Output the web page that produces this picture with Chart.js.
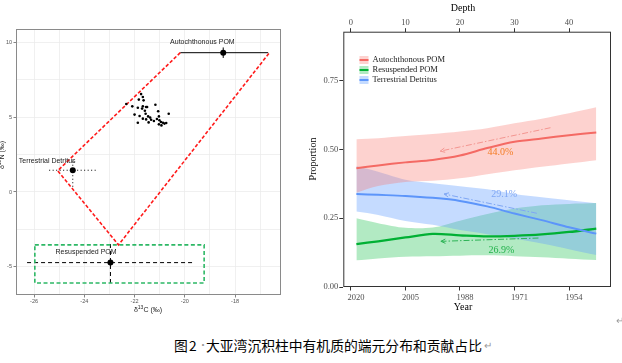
<!DOCTYPE html>
<html><head><meta charset="utf-8">
<script src="https://cdn.jsdelivr.net/npm/chart.js@4"></script>
<style>
html,body{margin:0;padding:0;background:#fff;width:622px;height:363px;overflow:hidden;position:relative}
#c1{position:absolute;left:0;top:0;width:300px;height:320px}
#c2{position:absolute;left:300px;top:0;width:322px;height:320px}
.cap{position:absolute;font-family:"Noto Sans CJK SC";font-size:13.8px;line-height:16px;color:#000;white-space:nowrap}
.g{color:#999}
</style></head><body>
<canvas id="c1" width="300" height="320"></canvas>
<canvas id="c2" width="322" height="320"></canvas>
<div class="cap" style="left:174px;top:337px">图</div>
<div class="cap" style="left:189px;top:337px">2</div>
<div class="cap g" style="left:198px;top:337px;font-size:10px">·</div>
<div class="cap" style="left:206px;top:337px">大亚湾沉积柱中有机质的端元分布和贡献占比</div>
<div class="cap g" style="left:484px;top:337px;font-size:10px">↵</div>
<div class="cap g" style="left:616px;top:312px;font-size:10px">↵</div>
<script>
// ---------- LEFT PANEL DATA (δ13C / δ15N biplot) ----------
const mixC = [-22.33,-22.09,-21.74,-21.67,-21.83,-21.64,-21.87,-21.67,-21.54,-21.70,-22.00,-21.80,-21.56,-21.46,-21.38,-21.67,-21.54,-21.87,-21.44,-21.17,-21.06,-21.03,-21.11,-21.01,-20.95,-20.87,-21.03,-20.93,-20.81,-20.74,-20.64,-21.23,-21.34,-21.59,-21.50];
const mixN = [5.87,5.71,6.53,6.33,6.16,6.11,5.62,5.71,5.67,5.56,5.16,5.07,5.22,5.04,4.96,4.89,4.84,4.62,4.64,5.82,5.38,5.04,4.87,4.78,4.67,4.62,4.51,4.44,4.56,4.60,5.22,4.73,4.82,5.42,5.67];
const srcNames = ['Autochthonous POM','Terrestrial Detritus','Resuspended POM'];
const srcC   = [-18.47,-24.46,-22.96];
const srcN   = [9.29,1.45,-4.71];
const srcCLo = [-20.18,-25.40,-26.28];
const srcCHi = [-16.68,-23.53,-19.67];
const srcNLo = [8.94,0.35,-6.07];
const srcNHi = [9.64,2.10,-3.31];
const srcLabelC = [-19.30,-25.48,-23.93];
const srcLabelN = [10.00,2.09,-4.02];
const polyC = [-20.18,-25.06,-22.64,-16.63];
const polyN = [9.29,1.42,-3.53,9.29];
const boxC = [-25.97,-19.23,-19.23,-25.97,-25.97];
const boxN = [-3.53,-3.53,-6.07,-6.07,-3.53];
const leftXTicks = [-26,-25,-24,-23,-22,-21,-20,-19,-18,-17];
const leftYTicks = [-5,-2.5,0,2.5,5,7.5,10];

// ---------- RIGHT PANEL DATA (mixing-model proportions) ----------
const depth    = [1,5,10,15,20,25,30,35,40,45];
const autoMean = [0.432,0.442,0.453,0.462,0.478,0.505,0.528,0.540,0.552,0.562];
const autoHi   = [0.537,0.541,0.549,0.556,0.565,0.577,0.595,0.612,0.632,0.653];
const autoLo   = [0.343,0.367,0.382,0.386,0.395,0.410,0.424,0.437,0.449,0.461];
const resMean  = [0.156,0.166,0.180,0.193,0.188,0.184,0.186,0.191,0.200,0.212];
const resHi    = [0.250,0.232,0.215,0.216,0.241,0.265,0.285,0.297,0.302,0.305];
const resLo    = [0.097,0.104,0.110,0.112,0.114,0.115,0.112,0.108,0.103,0.098];
const terMean  = [0.338,0.335,0.331,0.324,0.313,0.293,0.267,0.243,0.217,0.194];
const terHi    = [0.440,0.419,0.390,0.377,0.366,0.355,0.338,0.326,0.315,0.304];
const terLo    = [0.274,0.262,0.240,0.226,0.207,0.192,0.175,0.158,0.137,0.116];
const seriesNames = ['Autochthonous POM','Resuspended POM','Terrestrial Detritus'];
const depthTicks = [0,10,20,30,40];
const yearDepths = [0,10,20,30,40];
const yearLabels = ['2020','2005','1988','1971','1954'];
const propTicks = [0,0.25,0.5,0.75];
const annotText   = ['44.0%','29.1%','26.9%'];
const annotTextD  = [27.4,28.1,27.6];
const annotTextV  = [0.489,0.337,0.132];
const arrowFromD  = [36.6,34.1,34.4];
const arrowFromV  = [0.579,0.268,0.178];
const arrowToD    = [16.4,17.1,16.5];
const arrowToV    = [0.494,0.338,0.166];

Chart.defaults.animation = false;
Chart.defaults.plugins.legend.display = false;
Chart.defaults.plugins.tooltip.enabled = false;

const pts = (xs, ys) => xs.map((x,i)=>({x:x, y:ys[i]}));

// ---------- LEFT CHART ----------
const leftDs = [];
leftDs.push({data: pts(mixC,mixN), showLine:false, pointRadius:1.3, pointBackgroundColor:'#000', pointBorderWidth:0});
leftDs.push({data: pts(polyC,polyN), showLine:true, borderColor:'#FF1A1A', borderWidth:1.6, borderDash:[3.5,2], pointRadius:0});
leftDs.push({data: pts(boxC,boxN), showLine:true, borderColor:'#2DB865', borderWidth:1.6, borderDash:[4,2.5], pointRadius:0});
const errDash = [[], [1,2.5], [4,3]];
for (let i=0;i<3;i++){
  leftDs.push({data:[{x:srcCLo[i],y:srcN[i]},{x:srcCHi[i],y:srcN[i]}], showLine:true, borderColor:'#000', borderWidth:1, borderDash:errDash[i], pointRadius:0});
  leftDs.push({data:[{x:srcC[i],y:srcNLo[i]},{x:srcC[i],y:srcNHi[i]}], showLine:true, borderColor:'#000', borderWidth:1, borderDash:errDash[i], pointRadius:0});
}
leftDs.push({data: pts(srcC,srcN), showLine:false, pointRadius:3, pointBackgroundColor:'#000', pointBorderWidth:0});

const leftPlugin = {
  id:'leftDeco',
  afterDraw(chart){
    const {ctx, chartArea:a, scales:{x,y}} = chart;
    ctx.save();
    ctx.strokeStyle='#8a8a8a'; ctx.lineWidth=1;
    ctx.strokeRect(a.left+0.5, a.top+0.5, a.right-a.left-1, a.bottom-a.top-1);
    ctx.fillStyle='#222'; ctx.font='7px "Liberation Sans"'; ctx.textAlign='center'; ctx.textBaseline='middle';
    for (let i=0;i<srcNames.length;i++){
      ctx.fillText(srcNames[i], x.getPixelForValue(srcLabelC[i]), y.getPixelForValue(srcLabelN[i]));
    }
    const drawIso = (cx, cy, iso, el) => {
      ctx.font='7px "Liberation Sans"';
      const w1 = ctx.measureText('δ').width;
      ctx.font='5px "Liberation Sans"';
      const w2 = ctx.measureText(iso).width;
      ctx.font='7px "Liberation Sans"';
      const w3 = ctx.measureText(el).width;
      let sx = cx - (w1+w2+w3)/2;
      ctx.textAlign='left';
      ctx.fillText('δ', sx, cy);
      ctx.font='5px "Liberation Sans"';
      ctx.fillText(iso, sx+w1, cy-2.5);
      ctx.font='7px "Liberation Sans"';
      ctx.fillText(el, sx+w1+w2, cy);
    };
    ctx.fillStyle='#222';
    drawIso(148, 310, '13', 'C (‰)');
    ctx.save();
    ctx.translate(1.8, 155); ctx.rotate(-Math.PI/2);
    drawIso(0, 0, '15', 'N (‰)');
    ctx.restore();
    ctx.restore();
  }
};

new Chart(document.getElementById('c1'), {
  type:'scatter',
  data:{datasets:leftDs},
  options:{
    responsive:false,
    layout:{padding:{top:29,right:19,left:0,bottom:0}},
    scales:{
      x:{type:'linear', min:-26.72, max:-16.17,
         afterBuildTicks:s=>{s.ticks = leftXTicks.map(v=>({value:v}));},
         afterFit:s=>{s.height=25;},
         border:{display:false},
         grid:{color:'#ececec', lineWidth:0.8, tickLength:2.5, tickColor:c=> (c.tick && c.tick.value%2===0)?'#666':'rgba(0,0,0,0)'},
         ticks:{autoSkip:false, maxRotation:0, padding:1, color:'#555', font:{family:'Liberation Sans', size:5.5},
                callback:v=> v%2===0 ? String(v) : ''}},
      y:{type:'linear', min:-6.87, max:10.87,
         afterBuildTicks:s=>{s.ticks = leftYTicks.map(v=>({value:v}));},
         afterFit:s=>{s.width=16;},
         border:{display:false},
         grid:{color:'#ececec', lineWidth:0.8, tickLength:2.5, tickColor:c=> (c.tick && c.tick.value%5===0)?'#666':'rgba(0,0,0,0)'},
         ticks:{autoSkip:false, padding:1.5, color:'#555', font:{family:'Liberation Sans', size:5.5},
                callback:v=> v%5===0 ? String(v) : ''}}
    }
  },
  plugins:[leftPlugin]
});

// ---------- RIGHT CHART ----------
const cRed='#F46A64', cGreen='#00B034', cBlue='#5C95FA';
const fRed='rgba(248,118,109,0.33)', fGreen='rgba(0,186,56,0.30)', fBlue='rgba(97,156,255,0.37)';
const bandDs = (lo,hi,fill)=>[
  {data:pts(depth,lo), borderWidth:0, borderColor:'rgba(0,0,0,0)', pointRadius:0, tension:0.3, fill:false, order:1},
  {data:pts(depth,hi), borderWidth:0, borderColor:'rgba(0,0,0,0)', pointRadius:0, tension:0.3, fill:'-1', backgroundColor:fill, order:1}
];
const rightDs = [
  ...bandDs(autoLo,autoHi,fRed),
  ...bandDs(terLo,terHi,fBlue),
  ...bandDs(resLo,resHi,fGreen),
  {data:pts(depth,autoMean), borderColor:cRed, borderWidth:2, pointRadius:0, tension:0.3, fill:false, order:0},
  {data:pts(depth,terMean), borderColor:cBlue, borderWidth:2, pointRadius:0, tension:0.3, fill:false, order:0},
  {data:pts(depth,resMean), borderColor:cGreen, borderWidth:2.3, pointRadius:0, tension:0.3, fill:false, order:0}
];

const legendColors = [[fRed,cRed],[fGreen,cGreen],[fBlue,cBlue]];
const annotTextColors = ['#F47C24','#7EA6F4','#22B24C'];
const annotLineColors = ['#F39590','#7EA6F4','#2DB356'];

const rightPlugin = {
  id:'rightDeco',
  afterDraw(chart){
    const {ctx, chartArea:a, scales:{x,y}} = chart;
    ctx.save();
    ctx.strokeStyle='#333'; ctx.lineWidth=1;
    ctx.strokeRect(a.left+0.5, a.top+0.5, a.right-a.left-1, a.bottom-a.top-1);
    for (let i=0;i<seriesNames.length;i++){
      const cy = 60 + i*10;
      ctx.fillStyle = legendColors[i][0];
      ctx.fillRect(59.5, cy-4, 9, 8);
      ctx.strokeStyle = legendColors[i][1]; ctx.lineWidth=2; ctx.setLineDash([]);
      ctx.beginPath(); ctx.moveTo(59.5, cy); ctx.lineTo(68.5, cy); ctx.stroke();
      ctx.fillStyle='#1a1a1a'; ctx.font='8.5px "Liberation Serif"'; ctx.textAlign='left'; ctx.textBaseline='middle';
      ctx.fillText(seriesNames[i], 72.5, cy);
    }
    for (let i=0;i<annotText.length;i++){
      const x0=x.getPixelForValue(arrowFromD[i]), y0=y.getPixelForValue(arrowFromV[i]);
      const x1=x.getPixelForValue(arrowToD[i]), y1=y.getPixelForValue(arrowToV[i]);
      ctx.strokeStyle=annotLineColors[i]; ctx.lineWidth=1;
      ctx.setLineDash([6,2,1.5,2]);
      ctx.beginPath(); ctx.moveTo(x0,y0); ctx.lineTo(x1,y1); ctx.stroke();
      ctx.setLineDash([]);
      const ang = Math.atan2(y0-y1, x0-x1);
      ctx.beginPath();
      ctx.moveTo(x1+5*Math.cos(ang+0.45), y1+5*Math.sin(ang+0.45));
      ctx.lineTo(x1,y1);
      ctx.lineTo(x1+5*Math.cos(ang-0.45), y1+5*Math.sin(ang-0.45));
      ctx.stroke();
      ctx.fillStyle=annotTextColors[i]; ctx.font='10px "Liberation Serif"'; ctx.textAlign='center'; ctx.textBaseline='middle';
      ctx.fillText(annotText[i], x.getPixelForValue(annotTextD[i]), y.getPixelForValue(annotTextV[i]));
    }
    ctx.fillStyle='#000'; ctx.font='10px "Liberation Serif"'; ctx.textAlign='center'; ctx.textBaseline='middle';
    ctx.fillText('Depth', 163, 8.5);
    ctx.fillText('Year', 163, 307.5);
    ctx.save(); ctx.translate(13, 159); ctx.rotate(-Math.PI/2); ctx.fillText('Proportion', 0, 0); ctx.restore();
    ctx.restore();
  }
};

const serifTick = {family:'Liberation Serif', size:8.5};
new Chart(document.getElementById('c2'), {
  type:'line',
  data:{datasets:rightDs},
  options:{
    responsive:false,
    layout:{padding:{top:0,right:11,left:0,bottom:0}},
    plugins:{filler:{propagate:false}},
    scales:{
      x:{type:'linear', position:'bottom', min:-1.4, max:47.7,
         afterBuildTicks:s=>{s.ticks = yearDepths.map(v=>({value:v}));},
         afterFit:s=>{s.height=33;},
         border:{display:false},
         grid:{drawOnChartArea:false, tickLength:3.5, tickColor:'#333'},
         ticks:{autoSkip:false, maxRotation:0, padding:2, labelOffset:5, color:'#4d4d4d', font:serifTick,
                callback:(v,i)=> yearLabels[i]}},
      xTop:{type:'linear', position:'top', min:-1.4, max:47.7,
         afterBuildTicks:s=>{s.ticks = depthTicks.map(v=>({value:v}));},
         afterFit:s=>{s.height=31.7;},
         border:{display:false},
         grid:{drawOnChartArea:false, tickLength:3.5, tickColor:'#333'},
         ticks:{autoSkip:false, maxRotation:0, padding:0, color:'#4d4d4d', font:serifTick,
                callback:v=> String(v)}},
      y:{type:'linear', min:0, max:0.928,
         afterBuildTicks:s=>{s.ticks = propTicks.map(v=>({value:v}));},
         afterFit:s=>{s.width=43.3;},
         border:{display:false},
         grid:{drawOnChartArea:false, tickLength:4, tickColor:'#333'},
         ticks:{autoSkip:false, padding:1, color:'#4d4d4d', font:serifTick,
                callback:v=> v.toFixed(2)}}
    }
  },
  plugins:[rightPlugin]
});
</script>
</body></html>
